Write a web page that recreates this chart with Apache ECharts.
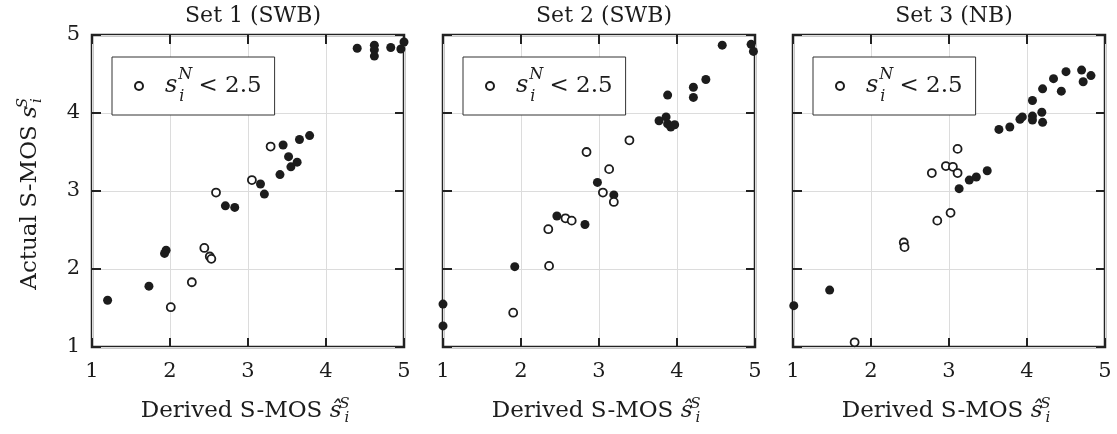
<!DOCTYPE html>
<html>
<head>
<meta charset="utf-8">
<script src="https://cdn.jsdelivr.net/npm/echarts@6/dist/echarts.min.js"></script>
<style>
html,body{margin:0;padding:0;background:#fff;}
#chart{width:1117px;height:434px;}
</style>
</head>
<body>
<div id="chart"></div>
<script>
var titles = ['Set 1 (SWB)', 'Set 2 (SWB)', 'Set 3 (NB)'];
var axisMin = 1, axisMax = 5, axisStep = 1;

// filled: s_i^N >= 2.5, open: s_i^N < 2.5  [derived, actual]
var set1Filled = [[1.20,1.60],[1.73,1.78],[1.95,2.24],[1.93,2.20],[2.71,2.81],[2.83,2.79],[3.16,3.09],[3.21,2.96],[3.41,3.21],[3.55,3.31],[3.63,3.37],[3.52,3.44],[3.45,3.59],[3.66,3.66],[3.79,3.71],[4.40,4.83],[4.62,4.87],[4.62,4.81],[4.62,4.73],[4.83,4.84],[4.96,4.82],[5.00,4.91]];
var set1Open = [[2.01,1.51],[2.28,1.83],[2.44,2.27],[2.51,2.16],[2.53,2.13],[2.59,2.98],[3.05,3.14],[3.29,3.57]];

var set2Filled = [[1.00,1.55],[1.00,1.27],[1.92,2.03],[2.46,2.68],[2.82,2.57],[2.98,3.11],[3.19,2.95],[3.77,3.90],[3.86,3.95],[3.88,3.86],[3.92,3.82],[3.97,3.85],[3.88,4.23],[4.21,4.33],[4.21,4.20],[4.37,4.43],[4.58,4.87],[4.95,4.88],[4.98,4.79]];
var set2Open = [[1.90,1.44],[2.36,2.04],[2.35,2.51],[2.57,2.65],[2.65,2.62],[2.84,3.50],[3.05,2.98],[3.19,2.86],[3.13,3.28],[3.39,3.65]];

var set3Filled = [[1.01,1.53],[1.47,1.73],[3.13,3.03],[3.26,3.14],[3.35,3.18],[3.49,3.26],[3.64,3.79],[3.78,3.82],[3.91,3.92],[3.94,3.95],[4.07,3.96],[4.07,3.91],[4.20,3.88],[4.19,4.01],[4.07,4.16],[4.20,4.31],[4.34,4.44],[4.44,4.28],[4.50,4.53],[4.70,4.55],[4.72,4.40],[4.82,4.48]];
var set3Open = [[1.79,1.06],[2.42,2.34],[2.43,2.28],[2.78,3.23],[2.85,2.62],[2.96,3.32],[3.02,2.72],[3.05,3.31],[3.11,3.23],[3.11,3.54]];

var filledSets = [set1Filled, set2Filled, set3Filled];
var openSets = [set1Open, set2Open, set3Open];

var FONT = 'DejaVu Serif';
var INK = '#1c1c1c';
var gridLefts = [92, 443, 793];
var gridWidth = 312, gridTop = 35, gridHeight = 312;

// s with stacked sup / sub (zero-width sup so sub sits under it)
var mathRich = {
  s: {fontFamily: FONT, fontStyle: 'italic', fontSize: 23, color: INK, lineHeight: 29, padding: [0, 3, 0, 0]},
  sup: {fontFamily: FONT, fontStyle: 'italic', fontSize: 15, color: INK, verticalAlign: 'top', align: 'left', width: 0, lineHeight: 16},
  sub: {fontFamily: FONT, fontStyle: 'italic', fontSize: 15, color: INK, verticalAlign: 'bottom', align: 'left', lineHeight: 16, padding: [0, 6, 0, 0]}
};
var legendRich = {
  s: {fontFamily: FONT, fontStyle: 'italic', fontSize: 24, color: INK, lineHeight: 38, padding: [0, 1, 0, 17]},
  sup: {fontFamily: FONT, fontStyle: 'italic', fontSize: 16, color: INK, verticalAlign: 'top', align: 'left', width: 0, lineHeight: 19},
  sub: {fontFamily: FONT, fontStyle: 'italic', fontSize: 16, color: INK, verticalAlign: 'bottom', align: 'left', lineHeight: 19, padding: [0, 14, 0, 1]},
  t: {fontFamily: FONT, fontSize: 23, color: INK}
};

var option = {
  backgroundColor: '#fff',
  animation: false,
  title: [], grid: [], xAxis: [], yAxis: [], legend: [], series: []
};

for (var i = 0; i < 3; i++) {
  option.title.push({
    text: titles[i],
    left: gridLefts[i] + gridWidth / 2, top: 0, textAlign: 'center',
    textStyle: {fontFamily: FONT, fontWeight: 'normal', fontSize: 22, color: INK}
  });
  option.grid.push({
    left: gridLefts[i], top: gridTop, width: gridWidth, height: gridHeight,
    show: true, borderColor: '#222', borderWidth: 2.5
  });
  // bottom / left axes with labels
  option.xAxis.push({
    gridIndex: i, type: 'value', position: 'bottom',
    min: axisMin, max: axisMax, interval: axisStep,
    axisLine: {show: false},
    axisTick: {inside: true, length: 9, lineStyle: {color: '#222', width: 2}},
    axisLabel: {fontFamily: FONT, fontSize: 21, color: INK, margin: 14},
    splitLine: {show: true, lineStyle: {color: '#dcdcdc', width: 1}},
    name: 'Derived S-MOS {s|\u015D}{sup|S}{sub|i}',
    nameLocation: 'middle', nameGap: 50,
    nameTextStyle: {fontFamily: FONT, fontSize: 23, color: INK, rich: mathRich}
  });
  option.yAxis.push({
    gridIndex: i, type: 'value', position: 'left',
    min: axisMin, max: axisMax, interval: axisStep,
    axisLine: {show: false},
    axisTick: {inside: true, length: 9, lineStyle: {color: '#222', width: 2}},
    axisLabel: {show: i === 0, fontFamily: FONT, fontSize: 21, color: INK, margin: 12},
    splitLine: {show: true, lineStyle: {color: '#dcdcdc', width: 1}},
    name: i === 0 ? 'Actual S-MOS {s|s}{sup|S}{sub|i}' : '',
    nameLocation: 'middle', nameGap: 47, nameRotate: 90,
    nameTextStyle: {fontFamily: FONT, fontSize: 23, color: INK, rich: mathRich}
  });
}
// mirrored ticks on top / right
for (var j = 0; j < 3; j++) {
  option.xAxis.push({
    gridIndex: j, type: 'value', position: 'top',
    min: axisMin, max: axisMax, interval: axisStep,
    axisLine: {show: false}, axisLabel: {show: false}, splitLine: {show: false},
    axisTick: {inside: true, length: 9, lineStyle: {color: '#222', width: 2}}
  });
  option.yAxis.push({
    gridIndex: j, type: 'value', position: 'right',
    min: axisMin, max: axisMax, interval: axisStep,
    axisLine: {show: false}, axisLabel: {show: false}, splitLine: {show: false},
    axisTick: {inside: true, length: 9, lineStyle: {color: '#222', width: 2}}
  });
}

for (var k = 0; k < 3; k++) {
  option.series.push({
    name: 'filled' + k, type: 'scatter', xAxisIndex: k, yAxisIndex: k,
    symbol: 'circle', symbolSize: 9,
    itemStyle: {color: INK, opacity: 1},
    data: filledSets[k]
  });
  option.series.push({
    name: 'open' + k, type: 'scatter', xAxisIndex: k, yAxisIndex: k,
    symbol: 'circle', symbolSize: 8,
    itemStyle: {color: '#fff', borderColor: INK, borderWidth: 1.8, opacity: 1},
    data: openSets[k]
  });
  option.legend.push({
    data: ['open' + k],
    left: gridLefts[k] + 20, top: 57,
    orient: 'horizontal',
    itemWidth: 8, itemHeight: 8,
    padding: [10, 13, 10, 22],
    borderColor: '#333', borderWidth: 1, backgroundColor: '#fff',
    selectedMode: false,
    formatter: function () { return '{s|s}{sup|N}{sub|i}{t|< 2.5}'; },
    textStyle: {fontFamily: FONT, fontSize: 24, color: INK, rich: legendRich}
  });
}

var chart = echarts.init(document.getElementById('chart'));
chart.setOption(option);
window.onresize = function () { chart.resize(); };
</script>
</body>
</html>
